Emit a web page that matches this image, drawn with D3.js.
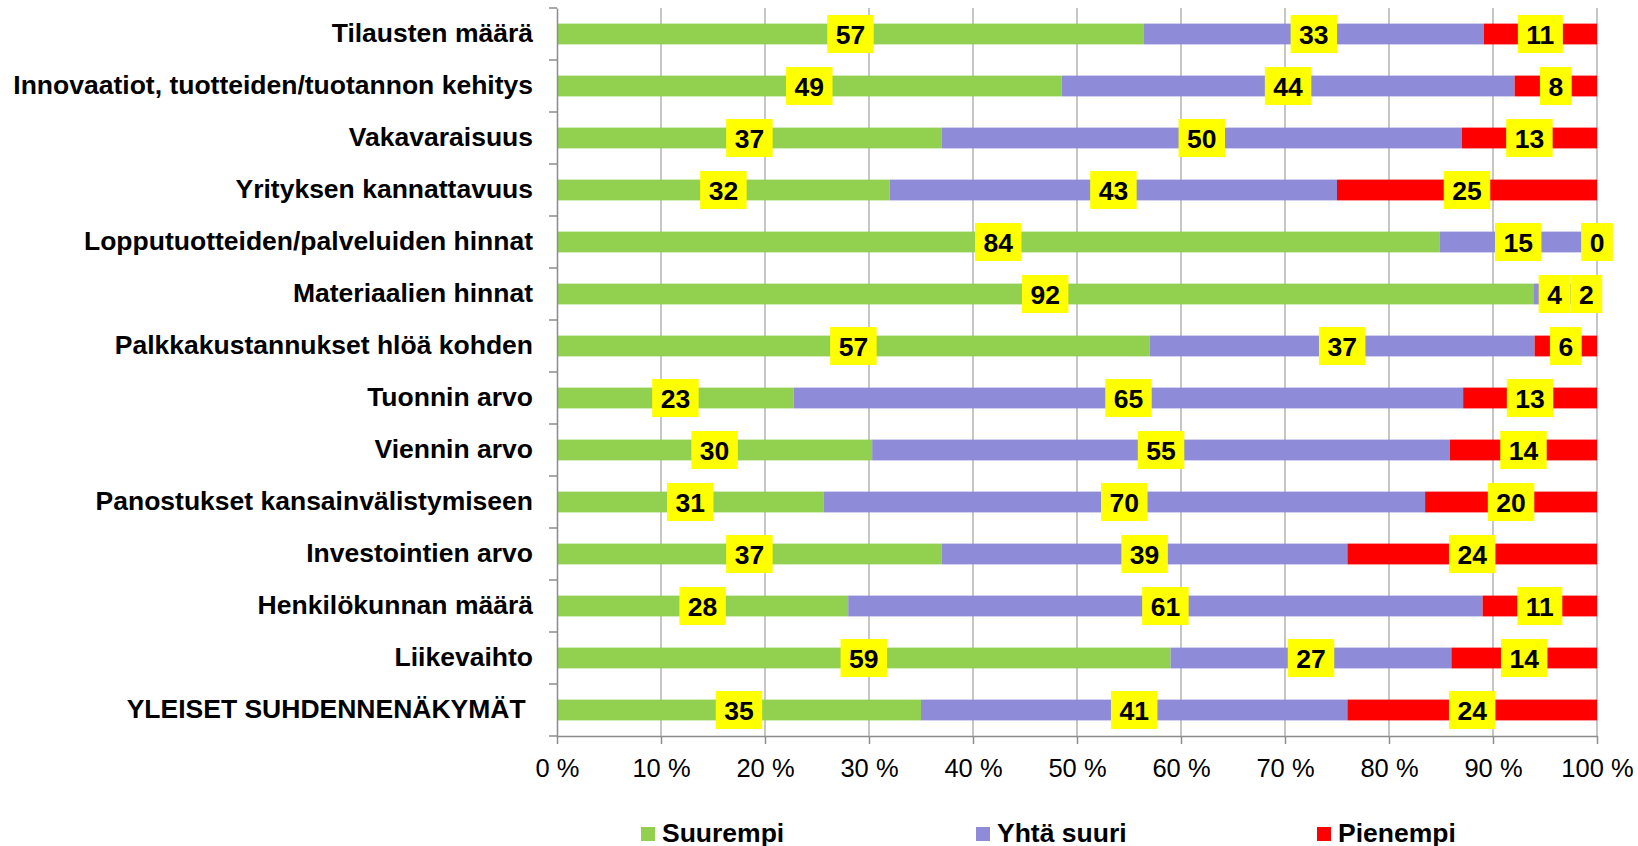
<!DOCTYPE html>
<html>
<head>
<meta charset="utf-8">
<script src="https://cdnjs.cloudflare.com/ajax/libs/d3/7.8.5/d3.min.js"></script>
<style>
  html, body { margin: 0; padding: 0; background: #fff; }
  svg { display: block; font-family: "Liberation Sans", Arial, sans-serif; }
</style>
</head>
<body>
<svg id="chart" width="1638" height="846"></svg>
<script>
const categories = [
  "Tilausten määrä",
  "Innovaatiot, tuotteiden/tuotannon kehitys",
  "Vakavaraisuus",
  "Yrityksen kannattavuus",
  "Lopputuotteiden/palveluiden hinnat",
  "Materiaalien hinnat",
  "Palkkakustannukset hlöä kohden",
  "Tuonnin arvo",
  "Viennin arvo",
  "Panostukset kansainvälistymiseen",
  "Investointien arvo",
  "Henkilökunnan määrä",
  "Liikevaihto",
  "YLEISET SUHDENNENÄKYMÄT "
];
const suurempi  = [57, 49, 37, 32, 84, 92, 57, 23, 30, 31, 37, 28, 59, 35];
const yhtaSuuri = [33, 44, 50, 43, 15,  4, 37, 65, 55, 70, 39, 61, 27, 41];
const pienempi  = [11,  8, 13, 25,  0,  2,  6, 13, 14, 20, 24, 11, 14, 24];
const seriesNames = ["Suurempi", "Yhtä suuri", "Pienempi"];
const seriesColors = ["#92d050", "#8e8cd8", "#ff0000"];
const xTicks = [0, 10, 20, 30, 40, 50, 60, 70, 80, 90, 100];

(function () {
const svg = d3.select("#chart");
const pLeft = 557, pRight = 1597, pTop = 8, pBottom = 736;

const x = d3.scaleLinear().domain([0, 100]).range([pLeft, pRight]);
const y = d3.scaleBand().domain(categories).range([pTop, pBottom])
  .paddingInner(0.6).paddingOuter(0.3);
const yBand = d3.scaleBand().domain(categories).range([pTop, pBottom]).padding(0);

// gridlines
svg.append("g").selectAll("line").data(xTicks.slice(1)).join("line")
  .attr("x1", d => x(d)).attr("x2", d => x(d))
  .attr("y1", pTop).attr("y2", pBottom)
  .attr("stroke", "#b3b3b3").attr("stroke-width", 1.5);

// stacked, normalized data
const rows = categories.map((c, i) => {
  const vals = [suurempi[i], yhtaSuuri[i], pienempi[i]];
  const total = d3.sum(vals);
  let acc = 0;
  return vals.map((v, k) => {
    const s = acc / total * 100;
    acc += v;
    const e = acc / total * 100;
    return { cat: c, k, v, s, e };
  });
});
const segs = rows.flat();

svg.append("g").selectAll("rect").data(segs).join("rect")
  .attr("x", d => x(d.s))
  .attr("width", d => Math.max(0, x(d.e) - x(d.s)))
  .attr("y", d => y(d.cat))
  .attr("height", y.bandwidth())
  .attr("fill", d => seriesColors[d.k]);

// axes
const xAxis = svg.append("g").attr("transform", `translate(0,${pBottom})`)
  .call(d3.axisBottom(x).tickValues(xTicks).tickFormat(d => d + " %")
    .tickSize(8).tickSizeOuter(0).tickPadding(15));
xAxis.select(".domain").attr("stroke", "#8c8c8c").attr("stroke-width", 1.5);
xAxis.selectAll(".tick line").attr("stroke", "#8c8c8c").attr("stroke-width", 1.5);
xAxis.selectAll(".tick text").attr("font-size", 25.5).attr("fill", "#000")
  .attr("font-family", "Liberation Sans, Arial, sans-serif");

const yAxis = svg.append("g").attr("transform", `translate(${pLeft},0)`)
  .call(d3.axisLeft(yBand).tickSize(0).tickPadding(24).tickSizeOuter(0));
yAxis.select(".domain").attr("stroke", "#8c8c8c").attr("stroke-width", 1.5);
yAxis.selectAll(".tick text").attr("font-size", 26.5).attr("font-weight", "bold")
  .attr("fill", "#000").style("white-space", "pre")
  .attr("font-family", "Liberation Sans, Arial, sans-serif");

// category boundary ticks
const bounds = categories.map(c => yBand(c)).concat([pBottom]);
svg.append("g").selectAll("line").data(bounds).join("line")
  .attr("x1", pLeft - 8).attr("x2", pLeft)
  .attr("y1", d => d).attr("y2", d => d)
  .attr("stroke", "#8c8c8c").attr("stroke-width", 1.5);

// data labels
const lg = svg.append("g");
segs.forEach(d => {
  const cx = x((d.s + d.e) / 2);
  const cy = y(d.cat) + y.bandwidth() / 2;
  const g = lg.append("g");
  const t = g.append("text")
    .attr("x", cx).attr("y", cy).attr("dy", "0.36em")
    .attr("text-anchor", "middle")
    .attr("font-size", 26.5).attr("font-weight", "bold").attr("fill", "#000")
    .text(d.v);
  const w = t.node().getComputedTextLength() + 17;
  g.insert("rect", "text")
    .attr("x", cx - w / 2).attr("width", w)
    .attr("y", cy - 19).attr("height", 38)
    .attr("fill", "#ffff00");
});

// legend
const legX = [641, 976, 1317];
const leg = svg.append("g");
seriesNames.forEach((n, i) => {
  leg.append("rect").attr("x", legX[i]).attr("y", 827).attr("width", 14).attr("height", 14)
    .attr("fill", seriesColors[i]);
  leg.append("text").attr("x", legX[i] + 21).attr("y", 841.5)
    .attr("font-size", 26.5).attr("font-weight", "bold").attr("fill", "#000").text(n);
});
})();
</script>
</body>
</html>
